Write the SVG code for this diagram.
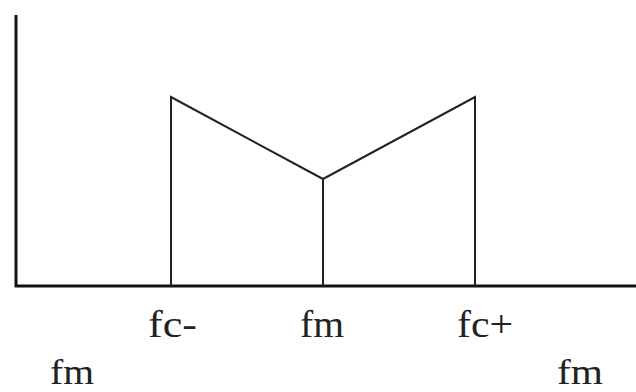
<svg xmlns="http://www.w3.org/2000/svg" width="636" height="392" viewBox="0 0 636 392">
<style>
.ax{stroke:#111;stroke-width:3;fill:none}
.ln{stroke:#222;stroke-width:2;fill:none}
text{font-family:"Liberation Serif","Times New Roman",serif;font-size:37px;fill:#222}
text.b{font-size:35px}
</style>
<rect width="636" height="392" fill="#fff"/>
<g id="axes">
<path class="ax" d="M16,15 V286 H636"/>
</g>
<g id="spectrum">
<path class="ln" d="M171,286 V97 L323,179 L475,97 V286"/>
<path class="ln" d="M323,179 V286"/>
</g>
<g id="labels">
<text x="148" y="337" textLength="49" lengthAdjust="spacingAndGlyphs">fc-</text>
<text x="300" y="337" textLength="44" lengthAdjust="spacingAndGlyphs">fm</text>
<text x="457" y="337" textLength="56" lengthAdjust="spacingAndGlyphs">fc+</text>
<text class="b" x="50" y="384" textLength="44" lengthAdjust="spacingAndGlyphs">fm</text>
<text class="b" x="557" y="384" textLength="46" lengthAdjust="spacingAndGlyphs">fm</text>
</g>
</svg>
